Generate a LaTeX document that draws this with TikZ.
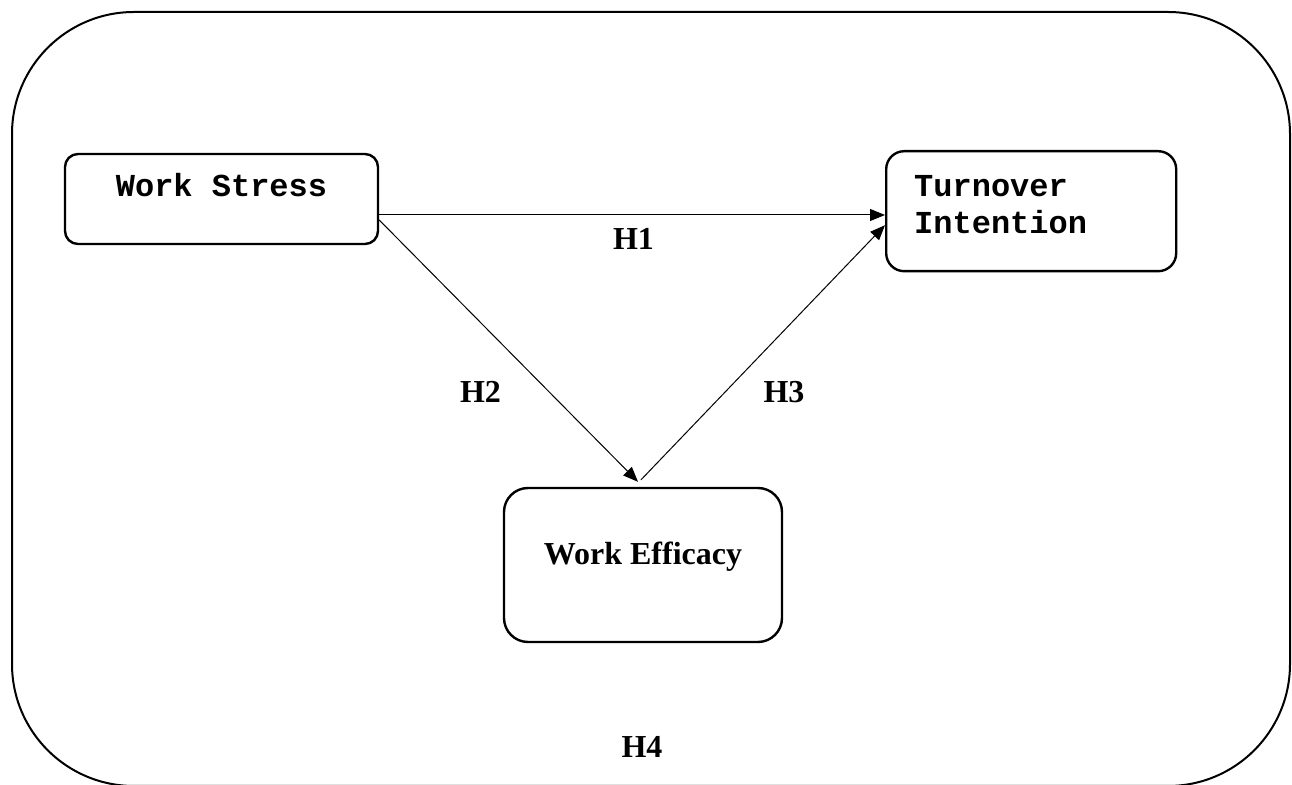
\documentclass[tikz,border=0pt]{standalone}
\usepackage{fontspec}
\setmainfont{Liberation Serif}
\setmonofont{Liberation Mono}
\usepackage{tikz}
\usetikzlibrary{arrows.meta}
\usetikzlibrary{positioning, calc}
\tikzset{
    varbox/.style = {draw=black, line width=1.2pt, inner sep=0pt},
    monobox/.style = {varbox, font=\ttfamily\bfseries\fontsize{16}{18.5}\selectfont},
    serifbox/.style = {varbox, font=\bfseries\fontsize{16}{19}\selectfont},
    hlabel/.style = {inner sep=0pt, anchor=base, font=\bfseries\fontsize{16}{19}\selectfont},
}

\begin{document}
\begin{tikzpicture}[x=0.5pt, y=-0.5pt, ->, >={Triangle[length=7.5pt,width=6pt]}, line width=0.5pt]
        \useasboundingbox (0,0) rectangle (1292,785);
        \draw [-, line width=1pt, rounded corners=61pt] (12,12) rectangle (1290,786);
        \node [monobox, rounded corners=6.5pt, minimum width=156.5pt,
            text height=21.5pt, text depth=23.5pt, anchor=base] (stress) at (221.5,197) {Work Stress};
        \node [monobox, rounded corners=9pt, text width=117pt, inner xsep=14pt, align=left,
            text height=22.5pt, text depth=37.5pt, anchor=north west] (turnover) at (885,150) {Turnover\\Intention};
        \node [serifbox, rounded corners=12pt, minimum width=139pt,
            text height=38.5pt, text depth=38.5pt, anchor=base] (effic) at (643,565) {Work Efficacy};
        \draw ([yshift=-8pt]stress.east) -- ([yshift=-8pt]stress.east -| turnover.west);
        \draw ([yshift=-10.5pt]stress.east) -- ([xshift=-2.5pt,yshift=2.5pt]effic.north);
        \draw ([xshift=-1pt,yshift=3.5pt]effic.north) -- ([yshift=-7pt]turnover.west);
        \node [hlabel] (h1) at (633.5,250) {H1};
        \node [hlabel] (h2) at (480.5,403) {H2};
        \node [hlabel] (h3) at (784,403) {H3};
        \node [hlabel] (h4) at (642,758) {H4};
\end{tikzpicture}
\end{document}
